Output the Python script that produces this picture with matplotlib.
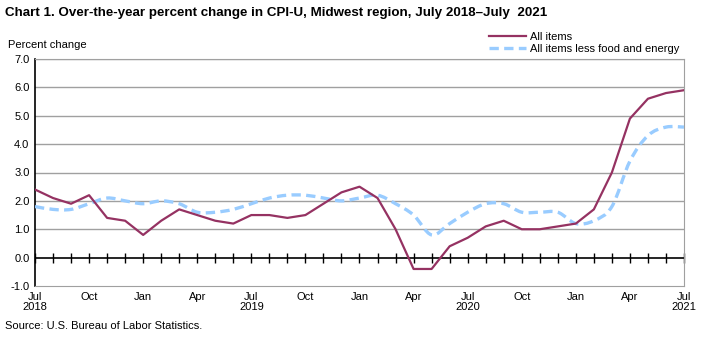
import matplotlib
matplotlib.use("Agg")
import matplotlib.pyplot as plt
from matplotlib.path import Path
from matplotlib.patches import PathPatch
from matplotlib.lines import Line2D
import numpy as np

plt.rcParams['font.family'] = ['Liberation Sans', 'DejaVu Sans']

months = ["Jul 2018", "Aug 2018", "Sep 2018", "Oct 2018", "Nov 2018", "Dec 2018",
          "Jan 2019", "Feb 2019", "Mar 2019", "Apr 2019", "May 2019", "Jun 2019",
          "Jul 2019", "Aug 2019", "Sep 2019", "Oct 2019", "Nov 2019", "Dec 2019",
          "Jan 2020", "Feb 2020", "Mar 2020", "Apr 2020", "May 2020", "Jun 2020",
          "Jul 2020", "Aug 2020", "Sep 2020", "Oct 2020", "Nov 2020", "Dec 2020",
          "Jan 2021", "Feb 2021", "Mar 2021", "Apr 2021", "May 2021", "Jun 2021",
          "Jul 2021"]

all_items = [2.4, 2.1, 1.9, 2.2, 1.4, 1.3,
             0.8, 1.3, 1.7, 1.5, 1.3, 1.2,
             1.5, 1.5, 1.4, 1.5, 1.9, 2.3,
             2.5, 2.1, 1.0, -0.4, -0.4, 0.4,
             0.7, 1.1, 1.3, 1.0, 1.0, 1.1,
             1.2, 1.7, 3.0, 4.9, 5.6, 5.8,
             5.9]

core = [1.8, 1.7, 1.7, 1.9, 2.1, 2.0,
        1.9, 2.0, 1.9, 1.6, 1.6, 1.7,
        1.9, 2.1, 2.2, 2.2, 2.1, 2.0,
        2.1, 2.2, 1.9, 1.5, 0.8, 1.2,
        1.6, 1.9, 1.9, 1.6, 1.6, 1.6,
        1.2, 1.3, 1.8, 3.4, 4.3, 4.6,
        4.6]

tick_labels = ["Jul\n2018", "Oct", "Jan", "Apr", "Jul\n2019", "Oct", "Jan", "Apr",
               "Jul\n2020", "Oct", "Jan", "Apr", "Jul\n2021"]
y_ticks = [-1.0, 0.0, 1.0, 2.0, 3.0, 4.0, 5.0, 6.0, 7.0]

title = "Chart 1. Over-the-year percent change in CPI-U, Midwest region, July 2018\u2013July  2021"

W, H = 711, 337
fig = plt.figure(figsize=(W / 100, H / 100), dpi=100)
ax = fig.add_axes([35 / W, 1 - 286 / H, 649 / W, 227 / H])

x = np.arange(len(months))
maroon = "#953262"
lblue = "#99CCFF"

# grid
for yv in y_ticks:
    if yv not in (0.0, -1.0):
        ax.axhline(yv, color="#a0a0a0", lw=1.0, zorder=1)
ax.axhline(0, color="black", lw=1.2, zorder=2)

# smoothed dashed core line (Excel-style bezier smoothing)
pts = np.column_stack([x, core]).astype(float)
verts = [tuple(pts[0])]
codes = [Path.MOVETO]
n = len(pts)
for i in range(n - 1):
    p0 = pts[i - 1] if i > 0 else pts[i]
    p1 = pts[i]
    p2 = pts[i + 1]
    p3 = pts[i + 2] if i + 2 < n else pts[i + 1]
    c1 = p1 + (p2 - p0) / 6.0
    c2 = p2 - (p3 - p1) / 6.0
    verts += [tuple(c1), tuple(c2), tuple(p2)]
    codes += [Path.CURVE4] * 3
patch = PathPatch(Path(verts, codes), fill=False, edgecolor=lblue, lw=2.4,
                  linestyle=(0, (2.8, 1.6)), zorder=3, capstyle="butt")
ax.add_patch(patch)

ax.plot(x, all_items, color=maroon, lw=1.6, zorder=4)

ax.set_xlim(0, len(months) - 1)
ax.set_ylim(-1, 7)
ax.set_yticks(y_ticks)
ax.set_yticklabels([f"{v:.1f}" for v in y_ticks])
ax.tick_params(axis="y", length=0, pad=4, labelsize=8)
ax.set_xticks(x[::3])
ax.set_xticklabels(tick_labels, fontsize=8, linespacing=1.05)
ax.tick_params(axis="x", length=0, pad=4)

for s in ["top", "right", "bottom"]:
    ax.spines[s].set_color("#a0a0a0")
ax.spines["left"].set_color("black")
ax.spines["left"].set_linewidth(1.2)

# tick marks on zero line
sec = ax.secondary_xaxis(1 / 8)
sec.set_xticks(x)
sec.tick_params(direction="inout", length=7, width=1, color="black", labelbottom=False, labeltop=False)
sec.spines["bottom"].set_visible(False)
sec.spines["top"].set_visible(False)

# legend
h1 = Line2D([], [], color=maroon, lw=1.6)
h2 = Line2D([], [], color=lblue, lw=2.4, linestyle=(0, (2.8, 1.6)))
fig.legend([h1, h2], ["All items", "All items less food and energy"],
           loc="upper left", bbox_to_anchor=(489 / W, 1 - 32 / H), frameon=False,
           fontsize=8, handlelength=3.3, handletextpad=0.35, labelspacing=0.2,
           borderaxespad=0, borderpad=0)

fig.text(5 / W, 1 - 13 / H, title, fontsize=9.6, fontweight="bold", va="center", ha="left")
fig.text(8 / W, 1 - 45 / H, "Percent change", fontsize=8, va="center", ha="left")
fig.text(5 / W, 1 - 326 / H, "Source: U.S. Bureau of Labor Statistics.", fontsize=8, va="center", ha="left")

fig.savefig("out.png", dpi=100)
